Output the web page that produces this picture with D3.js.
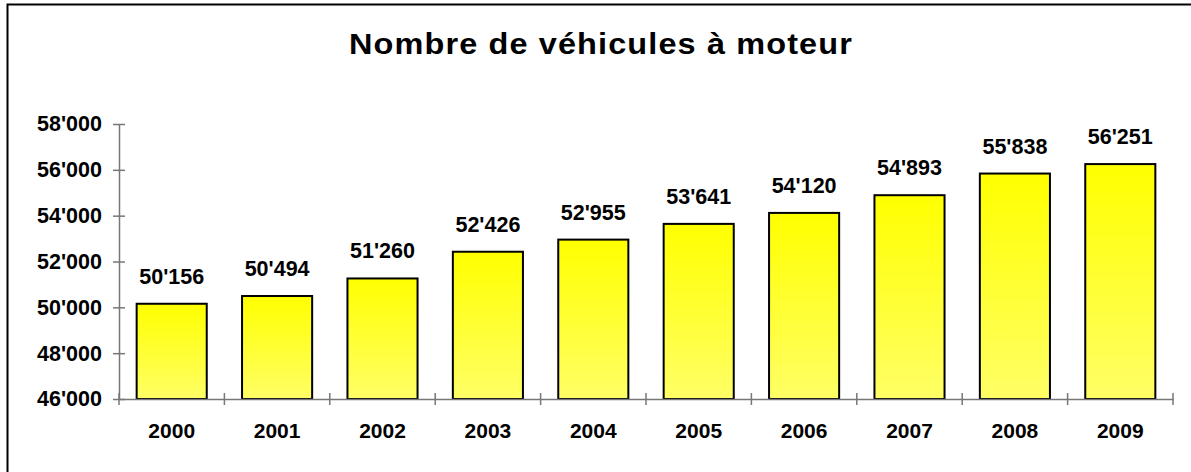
<!DOCTYPE html>
<html>
<head>
<meta charset="utf-8">
<script src="https://cdn.jsdelivr.net/npm/d3@7"></script>
<style>
  html, body { margin: 0; padding: 0; background: #fff; }
  svg { display: block; }
  text { font-family: "Liberation Sans", Arial, sans-serif; font-weight: bold; fill: #000; }
</style>
</head>
<body>
<svg id="chart" width="1191" height="472"></svg>
<script>
const title = "Nombre de véhicules à moteur";
const years = ["2000","2001","2002","2003","2004","2005","2006","2007","2008","2009"];
const vehicles = [50156, 50494, 51260, 52426, 52955, 53641, 54120, 54893, 55838, 56251];
const yTicks = [46000, 48000, 50000, 52000, 54000, 56000, 58000];

const svg = d3.select("#chart");
const W = 1191, H = 472;
const plotLeft = 119, plotRight = 1173, plotTop = 124, plotBottom = 399;

const loc = d3.formatLocale({decimal: ".", thousands: "'", grouping: [3], currency: ["", ""]});
const fmt = loc.format(",d");

// frame
svg.append("rect").attr("x", 7.5).attr("y", 4.5).attr("width", W + 20).attr("height", H + 20)
  .attr("fill", "none").attr("stroke", "#000").attr("stroke-width", 2);

// gradient
const defs = svg.append("defs");
const grad = defs.append("linearGradient").attr("id", "barGrad")
  .attr("x1", 0).attr("y1", 0).attr("x2", 0).attr("y2", 1);
grad.append("stop").attr("offset", "0%").attr("stop-color", "#FFFF00");
grad.append("stop").attr("offset", "100%").attr("stop-color", "#FFFF66");

const x = d3.scaleBand().domain(years).range([plotLeft, plotRight]).paddingInner(0.335).paddingOuter(0.1675);
const y = d3.scaleLinear().domain([46000, 58000]).range([plotBottom, plotTop]);

// title (slightly stretched horizontally, as in the reference)
svg.append("g").attr("transform", "translate(601,54) scale(1.12,1)")
  .append("text").attr("x", 0).attr("y", 0).attr("text-anchor", "middle")
  .style("font-size", "29px").style("letter-spacing", "1px").text(title);

// bars
svg.append("g").selectAll("rect").data(years).join("rect")
  .attr("x", d => x(d))
  .attr("y", (d, i) => y(vehicles[i]))
  .attr("width", x.bandwidth())
  .attr("height", (d, i) => y(46000) - y(vehicles[i]))
  .attr("fill", "url(#barGrad)")
  .attr("stroke", "#000").attr("stroke-width", 2);

// value labels
svg.append("g").selectAll("text").data(years).join("text")
  .attr("x", d => x(d) + x.bandwidth() / 2)
  .attr("y", (d, i) => y(vehicles[i]) - 20)
  .attr("text-anchor", "middle")
  .style("font-size", "21.5px")
  .text((d, i) => fmt(vehicles[i]));

// y axis
const yAxis = d3.axisLeft(y).tickValues(yTicks).tickFormat(fmt).tickSize(0).tickPadding(17);
const gy = svg.append("g").attr("transform", `translate(${plotLeft},0)`).call(yAxis);
gy.select(".domain").attr("stroke", "#777").attr("stroke-width", 1.5);
gy.selectAll(".tick text").style("font-size", "21.5px").style("font-family", "'Liberation Sans', Arial, sans-serif").attr("fill", "#000");
gy.selectAll(".tick").append("line").attr("x1", -6).attr("x2", 6).attr("stroke", "#777").attr("stroke-width", 1.5);

// x axis
const xAxis = d3.axisBottom(x).tickSize(0).tickPadding(24);
const gx = svg.append("g").attr("transform", `translate(0,${plotBottom})`).call(xAxis);
gx.select(".domain").attr("stroke", "#777").attr("stroke-width", 1.5);
gx.selectAll(".tick text").style("font-size", "21px").style("font-family", "'Liberation Sans', Arial, sans-serif").attr("fill", "#000");
// category boundary ticks (crossing)
const bounds = years.map(d => x(d) - x.step() * x.paddingInner() / 2).concat([plotRight]);
gx.append("g").selectAll("line").data(bounds).join("line")
  .attr("x1", d => d).attr("x2", d => d).attr("y1", -6).attr("y2", 6)
  .attr("stroke", "#777").attr("stroke-width", 1.5);
</script>
</body>
</html>
